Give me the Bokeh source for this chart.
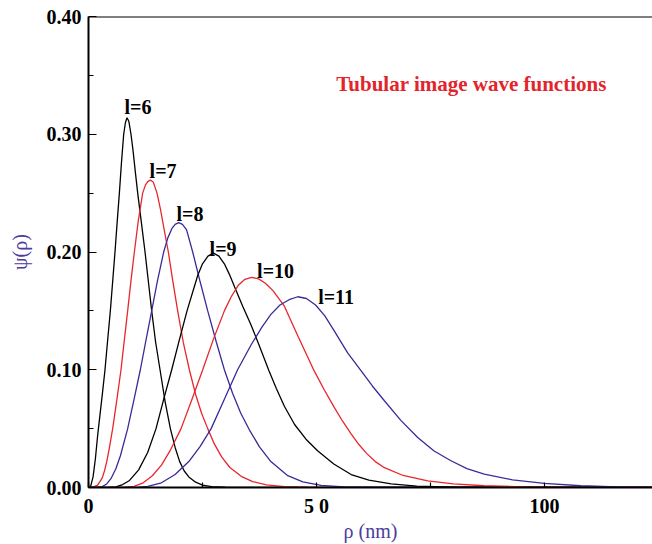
from bokeh.plotting import figure
from bokeh.models import FixedTicker, Range1d, Span, NumeralTickFormatter
from bokeh.core.properties import value
from bokeh.embed import file_html
from bokeh.resources import INLINE

# ---------------- data ----------------
x_l6 = [0, 0.5, 1.0, 1.5, 2.0, 2.5, 3.0, 3.62, 4.2, 4.79, 5.3, 5.81, 6.3, 6.77, 7.25, 7.72, 8.1, 8.45,
        8.85, 9.32, 9.8, 10.3, 10.79, 11.6, 12.4, 13.1, 13.86, 14.7, 15.69, 16.8, 17.96, 19.0, 20.0,
        21.0, 22.0, 23.5, 25.0, 27.0, 30.0, 34.0, 124]
y_l6 = [0, 0.0015, 0.009, 0.024, 0.044, 0.061, 0.078, 0.10, 0.125, 0.15, 0.175, 0.20, 0.226, 0.25,
        0.277, 0.30, 0.310, 0.314, 0.311, 0.30, 0.285, 0.267, 0.25, 0.225, 0.20, 0.176, 0.15, 0.124,
        0.10, 0.073, 0.05, 0.034, 0.022, 0.014, 0.009, 0.0045, 0.002, 0.0008, 0.0002, 0, 0]

x_l7 = [0, 1, 2, 3, 3.5, 4, 4.6, 5.3, 6.2, 7.13, 7.85, 8.59, 9.3, 10.06, 10.9, 11.88, 12.5, 13.0,
        13.57, 14.2, 15.03, 15.8, 16.6, 17.51, 18.5, 19.56, 20.8, 22.12, 23.5, 24.8, 26.15, 27.6, 29.2,
        31.0, 33.5, 36, 39, 43, 48, 124]
y_l7 = [0, 0.0003, 0.002, 0.008, 0.014, 0.022, 0.034, 0.05, 0.074, 0.10, 0.125, 0.15, 0.175, 0.20,
        0.226, 0.25, 0.257, 0.2598, 0.261, 0.2595, 0.25, 0.236, 0.219, 0.20, 0.175, 0.15, 0.123, 0.10,
        0.079, 0.063, 0.05, 0.037, 0.026, 0.017, 0.0095, 0.005, 0.0022, 0.0008, 0.0002, 0]

x_l8 = [0, 2, 3, 4, 5, 6, 7, 8.59, 10.0, 11.37, 12.6, 13.86, 15.1, 16.49, 17.4, 18.3, 19.0, 19.78,
        20.6, 21.5, 22.85, 24.4, 26.15, 28.0, 29.8, 31.6, 33.4, 35.28, 37.5, 40.0, 43.7, 47, 51, 56, 124]
y_l8 = [0, 0.0001, 0.0007, 0.003, 0.008, 0.016, 0.027, 0.05, 0.075, 0.10, 0.125, 0.15, 0.175, 0.20,
        0.212, 0.220, 0.2235, 0.225, 0.2235, 0.219, 0.20, 0.176, 0.15, 0.124, 0.10, 0.080, 0.063, 0.049,
        0.0345, 0.022, 0.010, 0.0048, 0.0018, 0.0005, 0]

x_l9 = [0, 4, 6, 7.5, 9, 11, 13, 14.81, 16.5, 18.25, 19.9, 21.61, 23.95, 25.0, 26.2, 27.39, 28.6,
        29.8, 30.9, 32.3, 33.82, 35.65, 37.1, 38.5, 39.6, 41.2, 42.96, 45.2, 47.7, 50.3, 53.8, 57.6,
        61.5, 66.4, 72, 80, 124]
y_l9 = [0, 0.0001, 0.0006, 0.0025, 0.006, 0.015, 0.030, 0.05, 0.075, 0.10, 0.125, 0.15, 0.18, 0.190,
        0.1965, 0.199, 0.1965, 0.190, 0.181, 0.168, 0.154, 0.138, 0.124, 0.110, 0.099, 0.084, 0.069,
        0.0535, 0.041, 0.031, 0.020, 0.011, 0.0062, 0.003, 0.0012, 0.0003, 0]

x_l10 = [0, 8, 10, 12, 14, 16, 18, 20.3, 22.7, 25.05, 27.4, 29.8, 31.3, 32.8, 34.3, 35.8, 37.3, 38.8,
         40.5, 42.96, 46.0, 49.5, 51.7, 53.9, 55.7, 57.6, 59.3, 61.0, 62.9, 64.9, 69.0, 74.4, 80.0, 86.8,
         95, 105, 124]
y_l10 = [0, 0.0002, 0.001, 0.004, 0.010, 0.019, 0.032, 0.05, 0.075, 0.10, 0.126, 0.15, 0.162, 0.1715,
         0.1768, 0.1785, 0.1772, 0.1735, 0.167, 0.154, 0.128, 0.099, 0.083, 0.068, 0.0565, 0.0455,
         0.0365, 0.029, 0.022, 0.0168, 0.0102, 0.0057, 0.003, 0.0015, 0.0006, 0.0002, 0]

x_l11 = [0, 11, 13, 16, 19, 22, 24.5, 26.9, 29.8, 32.7, 35.65, 38.0, 40.0, 42.0, 44.0, 45.9, 47.8,
         49.8, 51.8, 53.9, 56.8, 59.8, 62.3, 64.9, 68.5, 72.2, 75.8, 79.5, 83.0, 86.8, 93, 100, 108,
         116, 124]
y_l11 = [0, 0.0002, 0.001, 0.004, 0.011, 0.022, 0.035, 0.05, 0.075, 0.10, 0.121, 0.136, 0.147, 0.155,
         0.1595, 0.162, 0.1605, 0.155, 0.146, 0.133, 0.1145, 0.099, 0.086, 0.0737, 0.057, 0.0425, 0.031,
         0.0227, 0.016, 0.0114, 0.0065, 0.0035, 0.0015, 0.0005, 0]

curve_names = ["l=6", "l=7", "l=8", "l=9", "l=10", "l=11"]
curve_colors = ["#000000", "#e8262d", "#3a2b96", "#000000", "#e8262d", "#3a2b96"]
curves_x = [x_l6, x_l7, x_l8, x_l9, x_l10, x_l11]
curves_y = [y_l6, y_l7, y_l8, y_l9, y_l10, y_l11]

# curve label anchor points (data units)
label_x = [10.86, 16.35, 22.27, 29.51, 41.03, 54.30]
label_y = [0.3229, 0.2685, 0.2323, 0.2026, 0.1836, 0.1615]

title_text = "Tubular image wave functions"
title_x = 84.0
title_y = 0.3428

x_major = [0, 50, 100]
x_major_labels = ["0", "5 0", "100"]
x_minor = [25, 75, 125]
y_major = [0.0, 0.1, 0.2, 0.3, 0.4]
y_minor = [0.05, 0.15, 0.25, 0.35]

# ---------------- figure ----------------
p = figure(width=652, height=544, x_range=Range1d(0, 123.7), y_range=Range1d(0, 0.4),
           output_backend="svg", toolbar_location=None,
           min_border_left=88, min_border_right=0, min_border_top=16, min_border_bottom=57)
p.outline_line_color = None
p.grid.visible = False
p.background_fill_color = "white"

for xs, ys, c in zip(curves_x, curves_y, curve_colors):
    p.line(xs, ys, line_color=c, line_width=1.3)

p.text(x=label_x, y=label_y, text=curve_names, text_font=value("Liberation Serif"),
       text_font_style="bold", text_font_size="20px", text_color="black",
       text_align="center", text_baseline="alphabetic")

p.text(x=[title_x], y=[title_y], text=[title_text], text_font=value("Liberation Serif"),
       text_font_style="bold", text_font_size="21px", text_color="#e3242b",
       text_align="center", text_baseline="alphabetic")

p.add_layout(Span(location=0.4, dimension="width", line_color="black", line_width=2))

label_color = "#4b3c9e"

xa = p.xaxis[0]
xa.ticker = FixedTicker(ticks=x_major, minor_ticks=x_minor)
xa.major_label_overrides = {k: v for k, v in zip(x_major, x_major_labels)}
xa.axis_label = "ρ (nm)"
ya = p.yaxis[0]
ya.ticker = FixedTicker(ticks=y_major, minor_ticks=y_minor)
ya.formatter = NumeralTickFormatter(format="0.00")
ya.axis_label = "ψ(ρ)"

for ax in (xa, ya):
    ax.axis_line_color = "black"
    ax.axis_line_width = 2
    ax.major_tick_line_color = "black"
    ax.minor_tick_line_color = "black"
    ax.major_tick_line_width = 1.2
    ax.minor_tick_line_width = 1.2
    ax.major_tick_out = 0
    ax.minor_tick_out = 0
    ax.major_label_text_font = "Liberation Serif"
    ax.major_label_text_font_style = "bold"
    ax.major_label_text_font_size = "20px"
    ax.major_label_text_color = "black"
    ax.axis_label_text_font = "Liberation Serif"
    ax.axis_label_text_font_style = "normal"
    ax.axis_label_text_font_size = "20px"
    ax.axis_label_text_color = label_color

xa.major_tick_in = 5
xa.minor_tick_in = 5
xa.major_label_standoff = 7
xa.axis_label_standoff = 0
ya.major_tick_in = 8
ya.minor_tick_in = 5
ya.major_label_standoff = 7
ya.axis_label_standoff = 13

open("out.html", "w").write(file_html(p, INLINE))
